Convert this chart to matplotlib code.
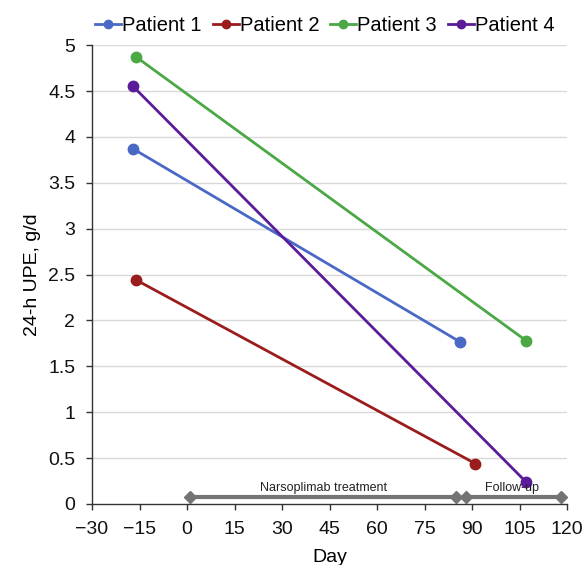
import matplotlib
matplotlib.use("Agg")
import matplotlib.pyplot as plt
from matplotlib.ticker import FuncFormatter

plt.rcParams['font.family'] = ['Liberation Sans', 'DejaVu Sans']

patients = ["Patient 1", "Patient 2", "Patient 3", "Patient 4"]
colors = ["#4a68c6", "#9a1c1c", "#4aa845", "#5a1c98"]
days = [[-17, 86], [-16, 91], [-16, 107], [-17, 107]]
upe = [[3.87, 1.77], [2.44, 0.44], [4.87, 1.78], [4.55, 0.24]]

treat_span = [1, 85]
follow_span = [88, 118]
bar_level = 0.075
treat_label = "Narsoplimab treatment"
follow_label = "Follow-up"

xticks = list(range(-30, 121, 15))
yticks = [0, 0.5, 1, 1.5, 2, 2.5, 3, 3.5, 4, 4.5, 5]

fig = plt.figure(figsize=(5.86, 5.65), dpi=100)
ax = fig.add_axes([0.157, 0.108, 0.811, 0.812])

for y in yticks[1:]:
    ax.axhline(y, color="#d9d9d9", lw=1, zorder=0)

for name, c, d, u in zip(patients, colors, days, upe):
    ax.plot(d, u, color=c, lw=2, marker="o", ms=7.5, label=name, zorder=3)

bar_color = "#747474"
for span in (treat_span, follow_span):
    ax.plot(span, [bar_level, bar_level], color=bar_color, lw=3, marker="D",
            ms=6, zorder=2, solid_capstyle="butt")
ax.text(sum(treat_span) / 2, bar_level + 0.035, treat_label, ha="center",
        va="bottom", fontsize=9, color="#222222")
ax.text(sum(follow_span) / 2 - 0.5, bar_level + 0.035, follow_label, ha="center",
        va="bottom", fontsize=9, color="#222222")

ax.set_xlim(-30, 120)
ax.set_ylim(0, 5)
ax.set_xticks(xticks)
ax.set_yticks(yticks)
ax.xaxis.set_major_formatter(FuncFormatter(lambda v, p: f"{int(v)}".replace("-", "\u2212")))
ax.yaxis.set_major_formatter(FuncFormatter(lambda v, p: f"{v:g}"))
ax.tick_params(axis="both", labelsize=14, direction="out", length=4, width=1,
               color="#333333", labelcolor="#111111")
ax.tick_params(axis="y", pad=8)
ax.tick_params(axis="x", pad=8)
for s in ("top", "right"):
    ax.spines[s].set_visible(False)
for s in ("left", "bottom"):
    ax.spines[s].set_color("#333333")
    ax.spines[s].set_linewidth(1)

ax.set_xlabel("Day", fontsize=14, labelpad=8)
ax.set_ylabel("24-h UPE, g/d", fontsize=14, labelpad=5)

ax.legend(loc="lower center", bbox_to_anchor=(0.49, 1.0), ncol=4, frameon=False,
          fontsize=14.5, handlelength=1.3, handletextpad=0.05, columnspacing=0.55,
          borderaxespad=0.1, markerscale=0.8)

fig.savefig("out.png", dpi=100)
